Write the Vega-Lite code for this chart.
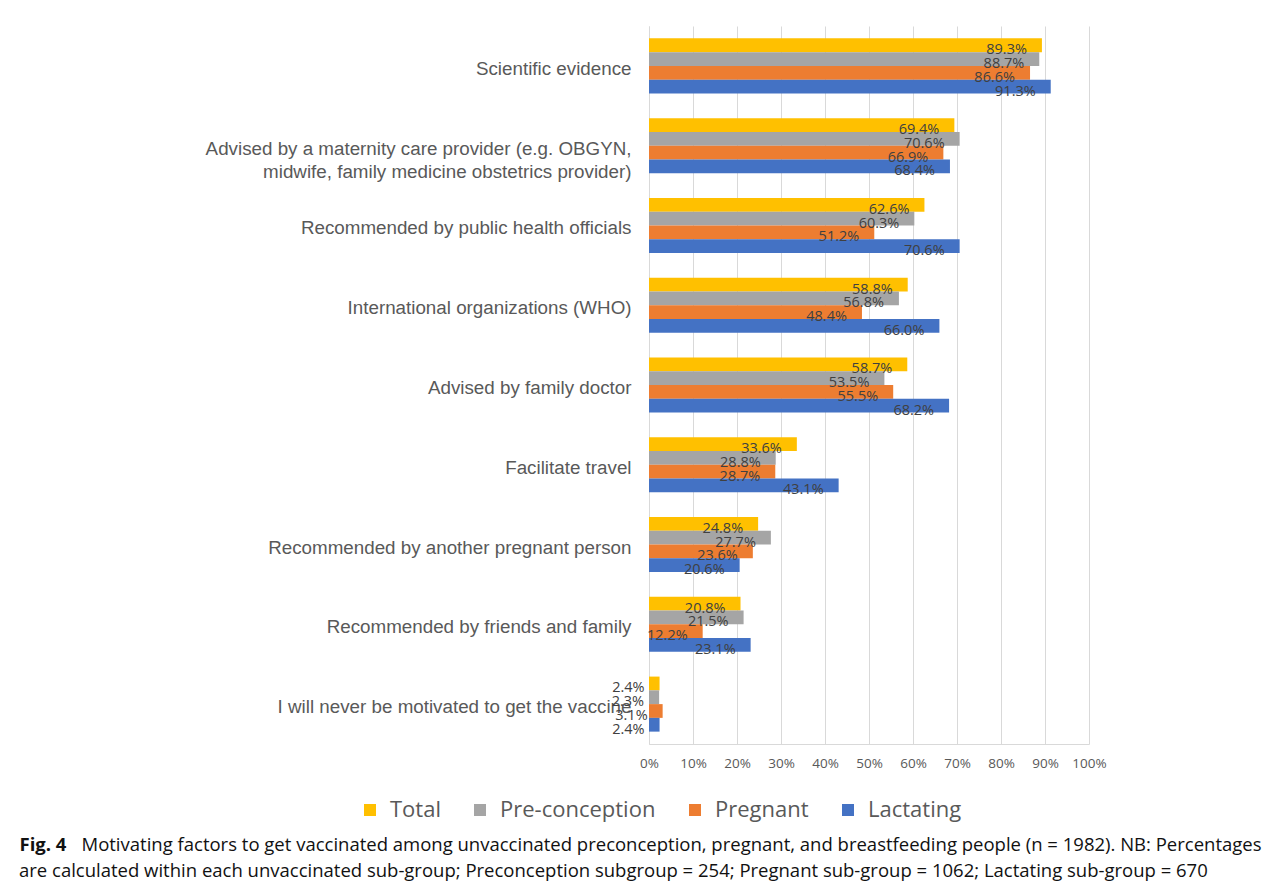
{
  "$schema": "https://vega.github.io/schema/vega-lite/v6.json",
  "autosize": {"type": "none"},
  "width": 440,
  "height": 718,
  "padding": {"left": 649, "top": 26, "right": 195, "bottom": 143},
  "background": "white",
  "config": {"view": {"stroke": null}},
  "title": {
    "text": "are calculated within each unvaccinated sub-group; Preconception subgroup = 254; Pregnant sub-group = 1062; Lactating sub-group = 670",
    "orient": "bottom",
    "anchor": "start",
    "frame": "group",
    "dx": -630,
    "offset": 23,
    "baseline": "alphabetic",
    "font": "Open Sans",
    "fontSize": 18.5,
    "fontWeight": "normal",
    "color": "#111111",
    "limit": 2000
  },
  "data": {
    "values": [
      {"factor": "Scientific evidence", "group": "Total", "value": 0.893},
      {"factor": "Scientific evidence", "group": "Pre-conception", "value": 0.887},
      {"factor": "Scientific evidence", "group": "Pregnant", "value": 0.866},
      {"factor": "Scientific evidence", "group": "Lactating", "value": 0.913},
      {"factor": "Advised by a maternity care provider (e.g. OBGYN,|midwife, family medicine obstetrics provider)", "group": "Total", "value": 0.694},
      {"factor": "Advised by a maternity care provider (e.g. OBGYN,|midwife, family medicine obstetrics provider)", "group": "Pre-conception", "value": 0.706},
      {"factor": "Advised by a maternity care provider (e.g. OBGYN,|midwife, family medicine obstetrics provider)", "group": "Pregnant", "value": 0.669},
      {"factor": "Advised by a maternity care provider (e.g. OBGYN,|midwife, family medicine obstetrics provider)", "group": "Lactating", "value": 0.684},
      {"factor": "Recommended by public health officials", "group": "Total", "value": 0.626},
      {"factor": "Recommended by public health officials", "group": "Pre-conception", "value": 0.603},
      {"factor": "Recommended by public health officials", "group": "Pregnant", "value": 0.512},
      {"factor": "Recommended by public health officials", "group": "Lactating", "value": 0.706},
      {"factor": "International organizations (WHO)", "group": "Total", "value": 0.588},
      {"factor": "International organizations (WHO)", "group": "Pre-conception", "value": 0.568},
      {"factor": "International organizations (WHO)", "group": "Pregnant", "value": 0.484},
      {"factor": "International organizations (WHO)", "group": "Lactating", "value": 0.660},
      {"factor": "Advised by family doctor", "group": "Total", "value": 0.587},
      {"factor": "Advised by family doctor", "group": "Pre-conception", "value": 0.535},
      {"factor": "Advised by family doctor", "group": "Pregnant", "value": 0.555},
      {"factor": "Advised by family doctor", "group": "Lactating", "value": 0.682},
      {"factor": "Facilitate travel", "group": "Total", "value": 0.336},
      {"factor": "Facilitate travel", "group": "Pre-conception", "value": 0.288},
      {"factor": "Facilitate travel", "group": "Pregnant", "value": 0.287},
      {"factor": "Facilitate travel", "group": "Lactating", "value": 0.431},
      {"factor": "Recommended by another pregnant person", "group": "Total", "value": 0.248},
      {"factor": "Recommended by another pregnant person", "group": "Pre-conception", "value": 0.277},
      {"factor": "Recommended by another pregnant person", "group": "Pregnant", "value": 0.236},
      {"factor": "Recommended by another pregnant person", "group": "Lactating", "value": 0.206},
      {"factor": "Recommended by friends and family", "group": "Total", "value": 0.208},
      {"factor": "Recommended by friends and family", "group": "Pre-conception", "value": 0.215},
      {"factor": "Recommended by friends and family", "group": "Pregnant", "value": 0.122},
      {"factor": "Recommended by friends and family", "group": "Lactating", "value": 0.231},
      {"factor": "I will never be motivated to get the vaccine", "group": "Total", "value": 0.024},
      {"factor": "I will never be motivated to get the vaccine", "group": "Pre-conception", "value": 0.023},
      {"factor": "I will never be motivated to get the vaccine", "group": "Pregnant", "value": 0.031},
      {"factor": "I will never be motivated to get the vaccine", "group": "Lactating", "value": 0.024}
    ]
  },
  "encoding": {
    "y": {
      "field": "factor",
      "type": "nominal",
      "sort": null,
      "title": "Fig. 4",
      "scale": {"paddingInner": 0.31, "paddingOuter": 0.155},
      "axis": {
        "labelExpr": "split(datum.value, '|')",
        "labelFont": "Liberation Sans",
        "labelFontSize": 18.8,
        "labelColor": "#595959",
        "labelPadding": 18,
        "labelLimit": 600,
        "labelLineHeight": 23,
        "labelOffset": 3,
        "ticks": false,
        "domain": true,
        "domainColor": "#d9d9d9",
        "grid": false,
        "titleAngle": 0,
        "titleAlign": "left",
        "titleBaseline": "alphabetic",
        "titleX": -630,
        "titleY": 824,
        "titleFont": "Open Sans",
        "titleFontSize": 18.5,
        "titleFontWeight": "bold",
        "titleColor": "#111111"
      }
    },
    "yOffset": {
      "field": "group",
      "type": "nominal",
      "sort": ["Total", "Pre-conception", "Pregnant", "Lactating"],
      "scale": {"paddingInner": 0, "paddingOuter": 0}
    },
    "x": {
      "field": "value",
      "type": "quantitative",
      "title": "Motivating factors to get vaccinated among unvaccinated preconception, pregnant, and breastfeeding people (n = 1982). NB: Percentages",
      "scale": {"domain": [0, 1], "nice": false},
      "axis": {
        "values": [0, 0.1, 0.2, 0.3, 0.4, 0.5, 0.6, 0.7, 0.8, 0.9, 1],
        "format": ".0%",
        "labelFont": "Open Sans",
        "labelFontSize": 13.5,
        "labelColor": "#595959",
        "labelPadding": 12,
        "labelOverlap": false,
        "labelFlush": false,
        "ticks": false,
        "domain": true,
        "domainColor": "#d9d9d9",
        "grid": true,
        "gridColor": "#d9d9d9",
        "gridWidth": 1,
        "titleAlign": "left",
        "titleAnchor": "start",
        "titleBaseline": "alphabetic",
        "titleX": -568,
        "titleY": 106,
        "titleFont": "Open Sans",
        "titleFontSize": 18.5,
        "titleFontWeight": "normal",
        "titleColor": "#111111",
        "titleLimit": 2000
      }
    }
  },
  "layer": [
    {
      "mark": {"type": "bar"},
      "encoding": {
        "color": {
          "field": "group",
          "type": "nominal",
          "sort": ["Total", "Pre-conception", "Pregnant", "Lactating"],
          "scale": {"domain": ["Total", "Pre-conception", "Pregnant", "Lactating"], "range": ["#ffc000", "#a5a5a5", "#ed7d31", "#4472c4"]},
          "legend": {
            "title": null,
            "orient": "none",
            "direction": "horizontal",
            "legendX": -290,
            "legendY": 773,
            "symbolType": "square",
            "symbolSize": 144,
            "symbolStrokeWidth": 0,
            "labelFont": "Open Sans",
            "labelFontSize": 22,
            "labelColor": "#595959",
            "labelOffset": 9,
            "columnPadding": 28
          }
        }
      }
    },
    {
      "mark": {"type": "text", "align": "right", "baseline": "middle", "dx": -15, "dy": 5, "font": "Open Sans", "fontSize": 14.5, "color": "#404040"},
      "encoding": {
        "text": {"field": "value", "type": "quantitative", "format": ".1%"}
      }
    }
  ]
}
